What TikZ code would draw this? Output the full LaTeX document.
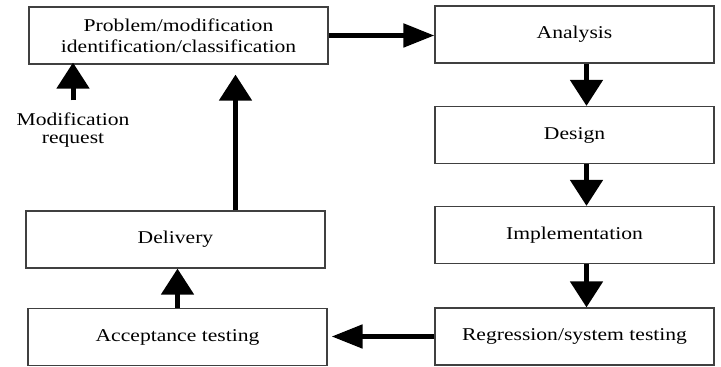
\documentclass[tikz,border=0pt]{standalone}
\usepackage{fontspec}
\setmainfont[FakeStretch=1.2]{Liberation Serif}
\usetikzlibrary{arrows.meta}

\begin{document}
\begin{tikzpicture}[x=0.5pt, y=-0.5pt,
  box/.style={draw=black!75, line width=0.6pt, minimum width=149.5pt, minimum height=28.5pt,
    inner sep=0pt, align=center, font=\fontsize{9}{10.5}\selectfont},
  rbox/.style={box, minimum width=139.5pt},
  hflow/.style={line width=2.5pt, -{Triangle[length=15.5pt,width=11.5pt]}},
  vflow/.style={line width=2.5pt, -{Triangle[length=13pt,width=16pt]}}]

% Frame of the picture
\useasboundingbox (0,0) rectangle (721,367);

% Left column
\node[box] (prob) at (178.5,35.5) {Problem/modification\\identification/classification};
\node[box] (deliv) at (175.5,239.5) {Delivery};
\node[box] (accept) at (177.5,337) {Acceptance testing};

% Right column
\node[rbox] (anal) at (574.5,34.5) {Analysis};
\node[rbox] (design) at (574.5,135) {Design};
\node[rbox] (impl) at (574.5,235) {Implementation};
\node[rbox] (regr) at (574.5,336.5) {Regression/system testing};

% Incoming request
\node[font=\fontsize{9}{9}\selectfont, align=center, inner sep=0pt] (modreq) at (73,130) {Modification\\request};

% Flow arrows
\draw[hflow] (prob.east) -- (prob.east -| anal.west);
\draw[vflow] ([xshift=6pt]anal.south) -- ([xshift=6pt]design.north);
\draw[vflow] ([xshift=6pt]design.south) -- ([xshift=6pt]impl.north);
\draw[vflow] ([xshift=6pt]impl.south) -- ([xshift=6pt]regr.north);
\draw[hflow, shorten >=2pt] (regr.west) -- (regr.west -| accept.east);
\draw[vflow] (accept.north) -- (accept.north |- deliv.south);
\draw[vflow, shorten >=5pt] ([xshift=30pt]deliv.north) -- ([xshift=30pt]deliv.north |- prob.south);
\draw[vflow, shorten >=5pt] ([yshift=6pt]modreq.north) -- ([yshift=6pt]modreq.north |- prob.south);
\end{tikzpicture}
\end{document}
